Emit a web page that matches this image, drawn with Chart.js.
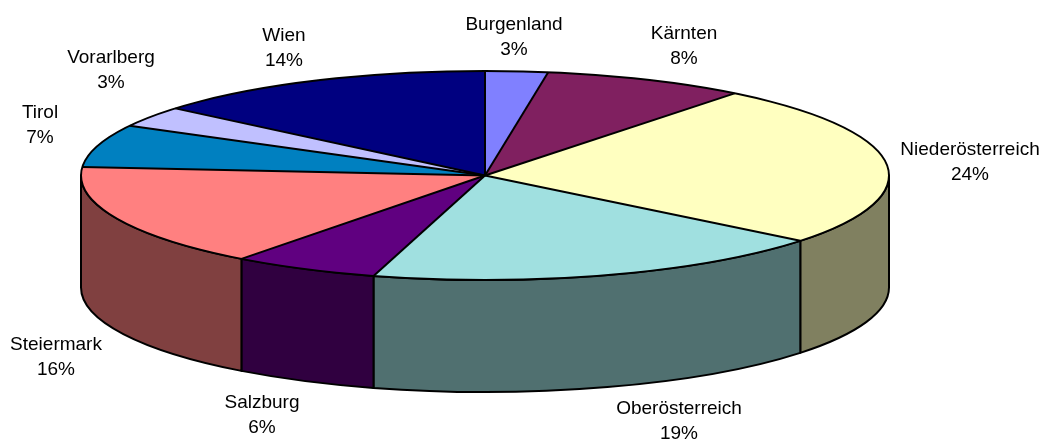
<!DOCTYPE html>
<html><head><meta charset="utf-8">
<style>html,body{margin:0;padding:0;background:#fff}#w{width:1042px;height:439px;position:relative}</style>
<script src="https://cdn.jsdelivr.net/npm/chart.js@4"></script>
</head><body><div id="w"><canvas id="c" width="1042" height="439"></canvas></div>
<script>
const categories = ['Burgenland','Kärnten','Niederösterreich','Oberösterreich','Salzburg','Steiermark','Tirol','Vorarlberg','Wien'];
const shares = [2.5, 8.1, 25.15, 18.7, 5.85, 16.0, 6.6, 3.2, 13.9];
const shareLabels = ['3%','8%','24%','19%','6%','16%','7%','3%','14%'];
const faceColors = ['#8080FF','#802060','#FFFFC0','#A0E0E0','#600080','#FF8080','#0080C0','#C0C0FF','#000080'];
const wallColors = ['#404080','#401030','#808060','#507070','#300040','#804040','#004060','#606080','#000040'];
const labelCenters = [[514,37],[684,46],[970,162.5],[679,421],[262,415],[56,357],[40,125],[111,70.5],[284,48]];
const RX = 404, RY = 104.5, DEPTH = 112, FONT = '19px "Liberation Sans", Arial, sans-serif', LINE = 24.7, STROKE = 2;

const pie3d = {
  id: 'pie3d',
  beforeDatasetsDraw(chart) {
    const ctx = chart.ctx, arcs = chart.getDatasetMeta(0).data;
    const cx = arcs[0].x, cy = arcs[0].y, k = RY / RX;
    ctx.save();
    ctx.lineWidth = STROKE; ctx.strokeStyle = '#000'; ctx.lineJoin = 'round';
    arcs.forEach((arc, i) => {
      const a = arc.startAngle, b = arc.endAngle;
      [[Math.max(a, 0), Math.min(b, Math.PI)], [Math.max(a, 2*Math.PI), Math.min(b, 3*Math.PI)]].forEach(([s, e]) => {
        if (e <= s) return;
        ctx.beginPath();
        ctx.ellipse(cx, cy, RX, RY, 0, s, e, false);
        ctx.lineTo(cx + RX*Math.cos(e), cy + RY*Math.sin(e) + DEPTH);
        ctx.ellipse(cx, cy + DEPTH, RX, RY, 0, e, s, true);
        ctx.closePath();
        ctx.fillStyle = wallColors[i];
        ctx.fill(); ctx.stroke();
      });
    });
    ctx.restore();
    ctx.save();
    ctx.translate(cx, cy); ctx.scale(1, k); ctx.translate(-cx, -cy);
  },
  afterDatasetsDraw(chart) {
    const ctx = chart.ctx, arcs = chart.getDatasetMeta(0).data;
    const cx = arcs[0].x, cy = arcs[0].y;
    ctx.restore();
    ctx.save();
    ctx.lineWidth = STROKE; ctx.strokeStyle = '#000'; ctx.lineJoin = 'round';
    ctx.beginPath();
    ctx.ellipse(cx, cy, RX, RY, 0, 0, 2*Math.PI);
    ctx.stroke();
    arcs.forEach(arc => {
      ctx.beginPath();
      ctx.moveTo(cx, cy);
      ctx.lineTo(cx + RX*Math.cos(arc.startAngle), cy + RY*Math.sin(arc.startAngle));
      ctx.stroke();
    });
    ctx.font = FONT; ctx.fillStyle = '#000'; ctx.textAlign = 'center'; ctx.textBaseline = 'middle';
    categories.forEach((name, i) => {
      const [x, y] = labelCenters[i];
      ctx.fillText(name, x, y - LINE/2);
      ctx.fillText(shareLabels[i], x, y + LINE/2);
    });
    ctx.restore();
  }
};

new Chart(document.getElementById('c'), {
  type: 'pie',
  data: { labels: categories, datasets: [{ data: shares, backgroundColor: faceColors, borderWidth: 0, clip: false }] },
  options: {
    responsive: false, animation: false, radius: RX,
    layout: { padding: { left: 0, top: 0, right: 72, bottom: 88 } },
    plugins: { legend: { display: false }, tooltip: { enabled: false } }
  },
  plugins: [pie3d]
});
</script></body></html>
